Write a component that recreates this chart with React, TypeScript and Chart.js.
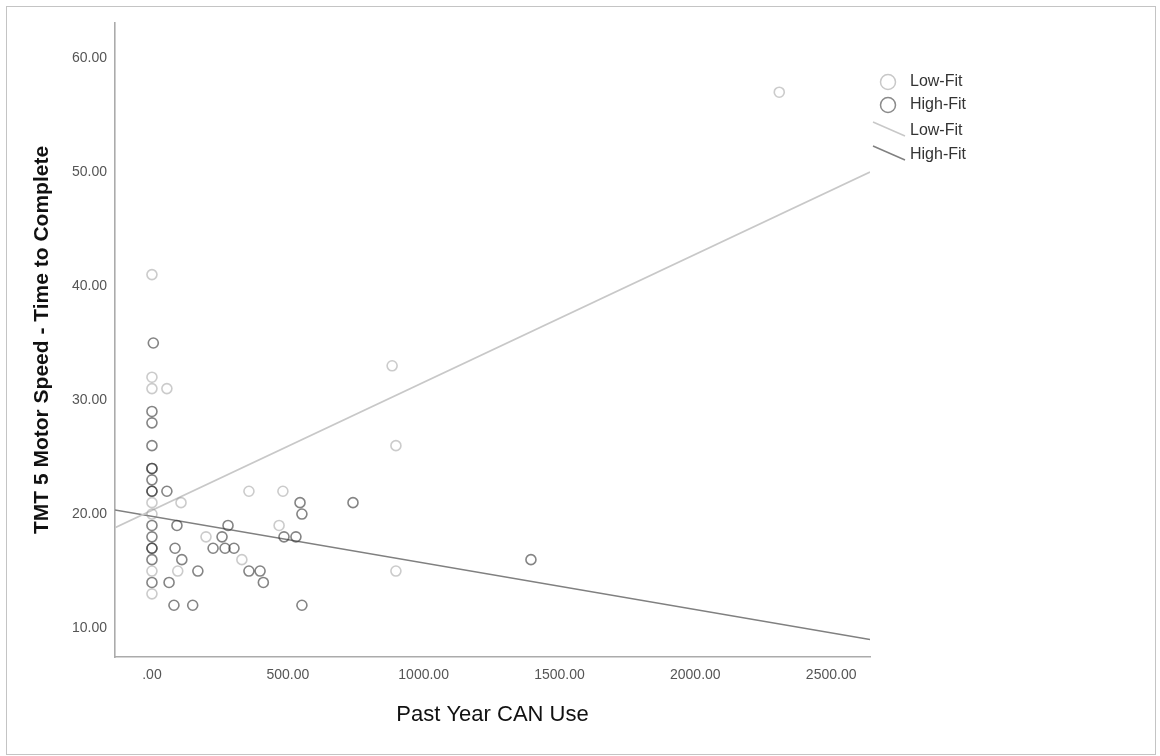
import React, { useEffect, useRef } from "react";
import { Chart, registerables } from "chart.js";

Chart.register(...registerables);

// Scatter values
const lowFitX = [0, 0, 0, 55, 0, 107, 357, 482, 0, 468, 199, 331, 0, 95, 0, 884, 898, 898, 2309];
const lowFitY = [41, 32, 31, 31, 21, 21, 22, 22, 20, 19, 18, 16, 15, 15, 13, 33, 26, 15, 57];

const highFitX = [5, 0, 0, 0, 0, 0, 0, 0, 0, 55, 545, 552, 0, 92, 280, 0, 258, 486, 530, 0, 0, 85, 225, 269, 302, 0, 110, 169, 357, 398, 0, 63, 410, 81, 150, 552, 740, 1395];
const highFitY = [35, 29, 28, 26, 24, 24, 23, 22, 22, 22, 21, 20, 19, 19, 19, 18, 18, 18, 18, 17, 17, 17, 17, 17, 17, 16, 16, 15, 15, 15, 14, 14, 14, 12, 12, 12, 21, 16];

// Fit line end points (at the axis limits)
const lowLineX = [-136, 2643];
const lowLineY = [18.8, 50.0];
const highLineX = [-136, 2643];
const highLineY = [20.35, 9.0];

const xTicks = [0, 500, 1000, 1500, 2000, 2500];
const yTicks = [10, 20, 30, 40, 50, 60];
const legendLabels = ["Low-Fit", "High-Fit", "Low-Fit", "High-Fit"];

const xTitle = "Past Year CAN Use";
const yTitle = "TMT 5 Motor Speed - Time to Complete";

const FONT = "Arial, 'Liberation Sans', sans-serif";
const LIGHT = "rgba(140,140,140,0.45)";
const DARK = "rgba(50,50,50,0.6)";

const zip = (xs: number[], ys: number[]) => xs.map((x, i) => ({ x, y: ys[i] }));
const fmt = (v: number) => (v === 0 ? ".00" : v.toFixed(2));

const decorPlugin = {
  id: "decor",
  afterDraw(chart: any) {
    const ctx = chart.ctx as CanvasRenderingContext2D;
    ctx.save();
    // outer frame
    ctx.strokeStyle = "#c4c4c4";
    ctx.lineWidth = 1;
    ctx.strokeRect(6.5, 6.5, 1149, 748);
    // legend
    ctx.lineWidth = 1.5;
    ctx.strokeStyle = "#c8c8c8";
    ctx.beginPath();
    ctx.arc(888, 82, 7.5, 0, Math.PI * 2);
    ctx.stroke();
    ctx.strokeStyle = "#8a8a8a";
    ctx.beginPath();
    ctx.arc(888, 105, 7.5, 0, Math.PI * 2);
    ctx.stroke();
    ctx.strokeStyle = "#c8c8c8";
    ctx.beginPath();
    ctx.moveTo(873, 122);
    ctx.lineTo(905, 136);
    ctx.stroke();
    ctx.strokeStyle = "#808080";
    ctx.beginPath();
    ctx.moveTo(873, 146);
    ctx.lineTo(905, 160);
    ctx.stroke();
    ctx.fillStyle = "#333";
    ctx.font = `16px ${FONT}`;
    ctx.textBaseline = "middle";
    ctx.textAlign = "left";
    const ys = [82, 105, 131, 155];
    legendLabels.forEach((t, i) => ctx.fillText(t, 910, ys[i]));
    ctx.restore();
  },
};

export default function App() {
  const ref = useRef<HTMLCanvasElement | null>(null);

  useEffect(() => {
    if (!ref.current) return;
    const chart = new Chart(ref.current, {
      type: "scatter",
      data: {
        datasets: [
          {
            label: "Low-Fit",
            data: zip(lowFitX, lowFitY),
            borderColor: LIGHT,
            backgroundColor: "rgba(0,0,0,0)",
            pointRadius: 5,
            pointBorderWidth: 1.6,
            pointHoverRadius: 5,
          },
          {
            label: "High-Fit",
            data: zip(highFitX, highFitY),
            borderColor: DARK,
            backgroundColor: "rgba(0,0,0,0)",
            pointRadius: 5,
            pointBorderWidth: 1.6,
            pointHoverRadius: 5,
          },
          {
            label: "Low-Fit line",
            data: zip(lowLineX, lowLineY),
            showLine: true,
            borderColor: "#c8c8c8",
            borderWidth: 1.6,
            pointRadius: 0,
            fill: false,
          },
          {
            label: "High-Fit line",
            data: zip(highLineX, highLineY),
            showLine: true,
            borderColor: "#808080",
            borderWidth: 1.6,
            pointRadius: 0,
            fill: false,
          },
        ],
      },
      options: {
        responsive: false,
        animation: false,
        devicePixelRatio: 1,
        layout: { padding: { left: 0, top: 23, right: 290, bottom: 0 } },
        plugins: { legend: { display: false }, tooltip: { enabled: false } },
        scales: {
          x: {
            type: "linear",
            min: -136,
            max: 2643,
            afterBuildTicks: (axis: any) => {
              axis.ticks = xTicks.map((v) => ({ value: v }));
            },
            afterFit: (axis: any) => {
              axis.height = 99;
            },
            grid: { display: false, drawTicks: false },
            border: { display: true, color: "#ababab", width: 1.6 },
            ticks: {
              padding: 10,
              maxRotation: 0,
              autoSkip: false,
              color: "#555",
              font: { family: FONT, size: 14 },
              callback: (v: any) => fmt(Number(v)),
            },
            title: {
              display: true,
              text: xTitle,
              color: "#111",
              font: { family: FONT, size: 22 },
              padding: { top: 0, bottom: 28 },
            },
          },
          y: {
            type: "linear",
            min: 7.46,
            max: 63.07,
            afterBuildTicks: (axis: any) => {
              axis.ticks = yTicks.map((v) => ({ value: v }));
            },
            afterFit: (axis: any) => {
              axis.width = 115;
            },
            grid: { display: false, drawTicks: false },
            border: { display: true, color: "#ababab", width: 1.6 },
            ticks: {
              padding: 8,
              autoSkip: false,
              color: "#555",
              font: { family: FONT, size: 14 },
              callback: (v: any) => fmt(Number(v)),
            },
            title: {
              display: true,
              text: yTitle,
              color: "#111",
              font: { family: FONT, size: 21, weight: "bold" },
              padding: { top: 30, bottom: 0 },
            },
          },
        },
      },
      plugins: [decorPlugin],
    } as any);
    return () => chart.destroy();
  }, []);

  return (
    <div style={{ position: "absolute", left: 0, top: 0, width: 1160, height: 756, background: "#fff" }}>
      <canvas ref={ref} width={1160} height={756} style={{ display: "block" }} />
    </div>
  );
}
